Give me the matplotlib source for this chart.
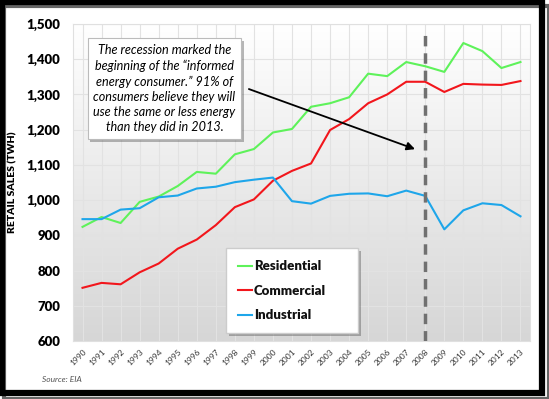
import matplotlib
matplotlib.use("Agg")
import matplotlib.pyplot as plt
import matplotlib.patheffects as pe
from matplotlib.patches import Rectangle
import numpy as np

years = list(range(1990, 2014))
residential = [924, 952, 935, 995, 1010, 1040, 1080, 1075, 1130, 1145, 1192, 1202,
               1265, 1275, 1292, 1359, 1352, 1392, 1380, 1364, 1446, 1423, 1375, 1392]
commercial = [751, 765, 761, 795, 820, 862, 888, 929, 980, 1002, 1055, 1083,
              1104, 1199, 1230, 1275, 1300, 1336, 1336, 1307, 1330, 1328, 1327, 1338]
industrial = [946, 946, 973, 977, 1008, 1013, 1033, 1038, 1051, 1058, 1064, 997,
              990, 1012, 1018, 1019, 1011, 1027, 1012, 917, 971, 991, 986, 954]
yticks = [600, 700, 800, 900, 1000, 1100, 1200, 1300, 1400, 1500]
recession_year = 2008
note = ("The recession marked the\nbeginning of the \u201cinformed\n"
        "energy consumer.\u201d 91% of\nconsumers believe they will\n"
        "use the same or less energy\nthan they did in 2013.")

plt.rcParams['font.family'] = ['Lato', 'DejaVu Sans']

fig = plt.figure(figsize=(5.49, 3.99), dpi=100)
ax = fig.add_axes([73 / 549, 1 - 341 / 399, 457 / 549, 317 / 399])

# outer frame with a little shadow
fig.patches.append(Rectangle((0.008, 0.0), 0.992, 0.985, transform=fig.transFigure,
                             fill=False, lw=3, ec="#666666", zorder=0))
fig.patches.append(Rectangle((0.004, 0.014), 0.984, 0.98, transform=fig.transFigure,
                             fill=False, lw=4.5, ec="black", zorder=1))

# gradient background
grad = np.linspace(0, 1, 256).reshape(-1, 1)
ax.imshow(grad, extent=[0, 1, 0, 1], transform=ax.transAxes, aspect="auto",
          cmap=matplotlib.colors.LinearSegmentedColormap.from_list("g", ["#d6d6d6", "#ffffff"]),
          origin="lower", zorder=0)

ax.plot(years, residential, color="#5ef25a", lw=1.5, label="Residential", zorder=3)
ax.plot(years, commercial, color="#f2161c", lw=1.5, label="Commercial", zorder=3)
ax.plot(years, industrial, color="#1ea6ea", lw=1.5, label="Industrial", zorder=3)
ax.axvline(recession_year, color="#707070", lw=2.5, dashes=(3, 2), zorder=4,
           ymin=0, ymax=0.98)

ax.set_xlim(1989.5, 2013.5)
ax.set_ylim(600, 1500)
ax.set_xticks(years)
ax.set_xticklabels([str(y) for y in years], rotation=45, ha="right",
                   rotation_mode="anchor", fontsize=6, color="#333333")
ax.set_yticks(yticks)
ax.set_yticklabels(["{:,}".format(v) for v in yticks], fontsize=9.5, fontweight="heavy")
ax.tick_params(length=0, pad=5)
ax.tick_params(axis="y", pad=9)
ax.grid(True, color="#e2e2e2", lw=0.8, zorder=1)
ax.set_axisbelow(True)
for s in ax.spines.values():
    s.set_color("#e0e0e0")
    s.set_linewidth(0.8)
ax.set_ylabel("RETAIL SALES (TWH)", fontsize=7.5, fontweight="heavy")
ax.yaxis.set_label_coords(-0.122, 0.5)

leg = ax.legend(loc="lower left", bbox_to_anchor=(0.335, 0.025, 0.289, 0.262),
                mode="expand", borderaxespad=0, handlelength=1.1, handletextpad=0.1,
                borderpad=0.9, labelspacing=0.95, fancybox=False, framealpha=1,
                edgecolor="#cccccc", prop={"weight": "heavy", "size": 9.5})
leg.get_frame().set_path_effects([pe.SimplePatchShadow(offset=(2, -2), alpha=0.4), pe.Normal()])
for t in leg.get_texts():
    t.set_color("#111111")

ax.annotate("", xy=(2007.6, 1142), xytext=(1998.6, 1318),
            arrowprops=dict(arrowstyle="-|>", color="black", lw=1.3,
                            mutation_scale=12), zorder=5)
txt = ax.text(1994.3, 1316, note, ha="center", va="center", fontsize=9.1,
              style="italic", linespacing=1.33, zorder=6,
              bbox=dict(boxstyle="square,pad=0.45", fc="white", ec="#bbbbbb", lw=0.8))
txt.get_bbox_patch().set_path_effects([pe.SimplePatchShadow(offset=(2, -2), alpha=0.4), pe.Normal()])

fig.text(42 / 549, 1 - 380 / 399, "Source: EIA", fontsize=6, style="italic",
         color="#555555", va="center")

fig.savefig("out.png", dpi=100)
